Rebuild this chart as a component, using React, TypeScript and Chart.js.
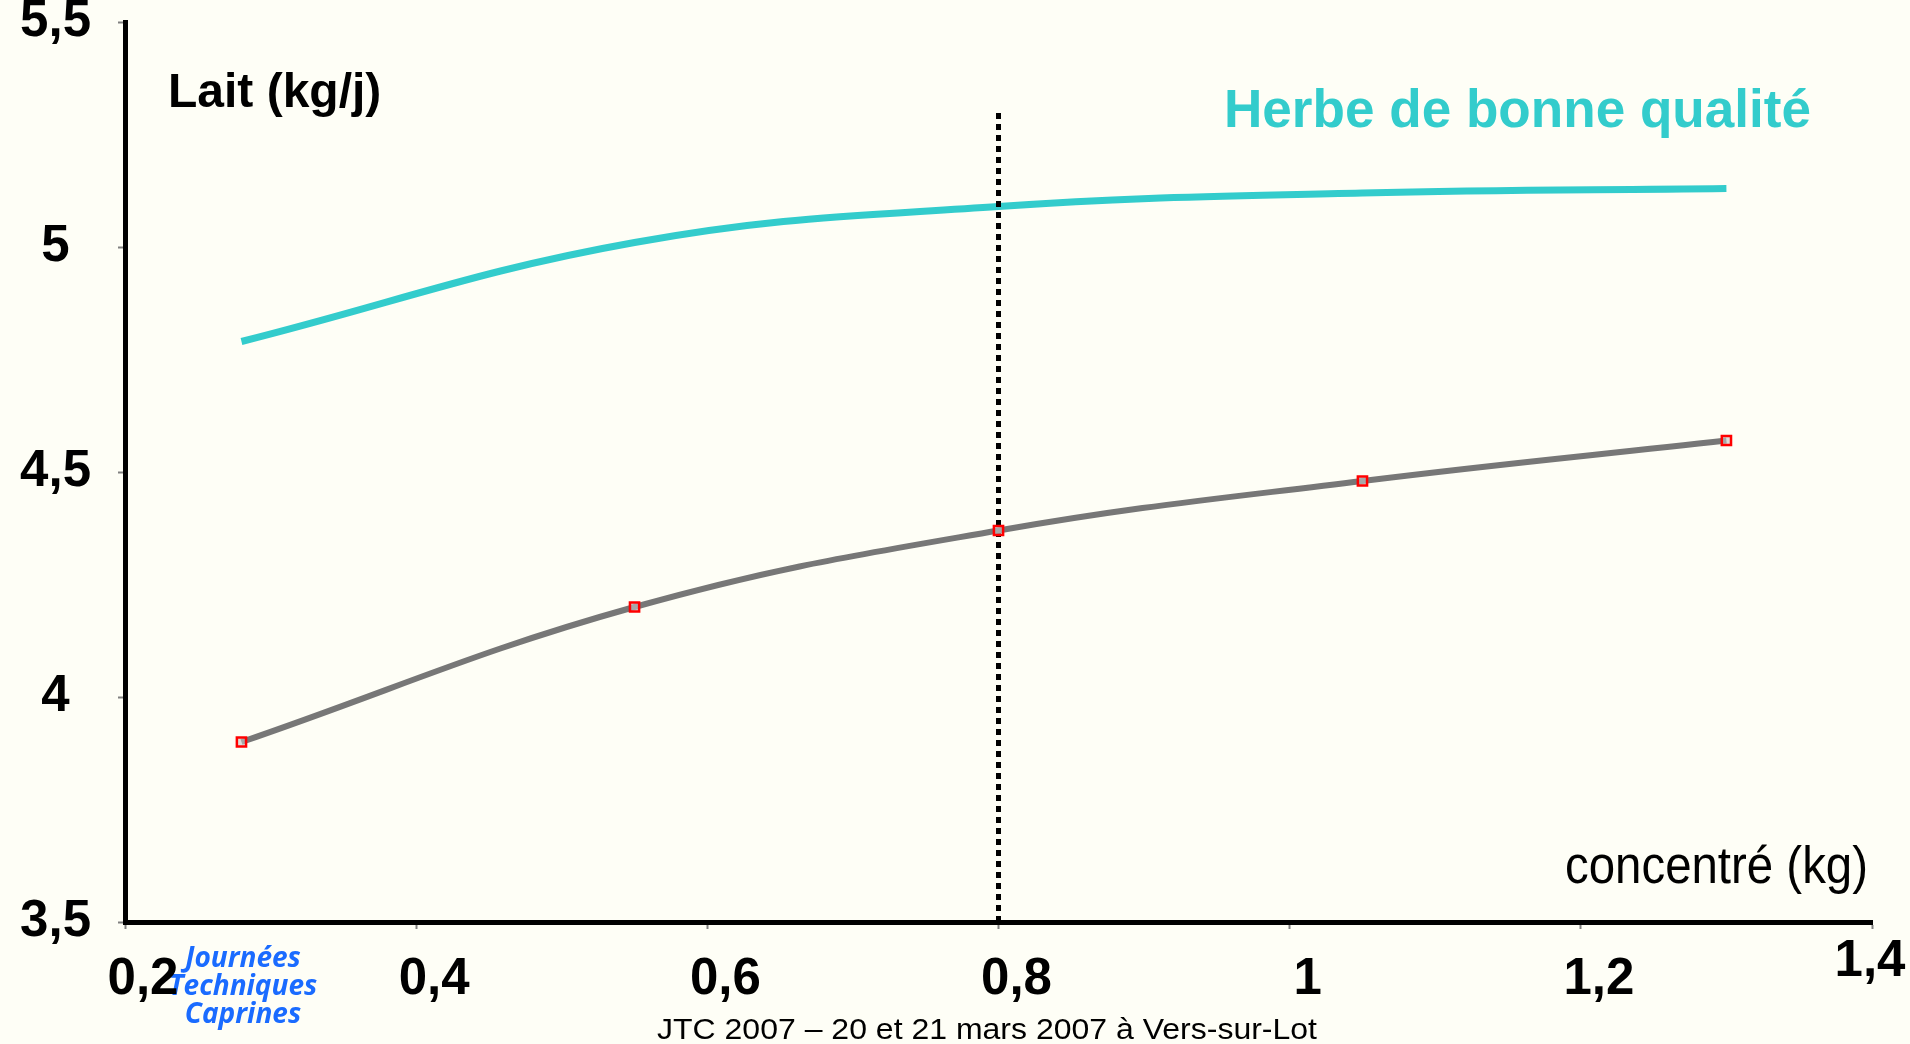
import React, { useEffect, useRef } from 'react';
import { Chart, registerables } from 'chart.js';

Chart.register(...registerables);

// ---------- data ----------
const concentreKg = [0.28, 0.55, 0.8, 1.05, 1.3];
const laitHerbeBonne = [4.79, 5.01, 5.09, 5.12, 5.13];
const laitAutre = [3.9, 4.2, 4.37, 4.48, 4.57];
const seuilX = [0.8, 0.8];
const seuilY = [3.5, 5.3];
const xTickValues = [0.2, 0.4, 0.6, 0.8, 1, 1.2, 1.4];
const yTickValues = [3.5, 4, 4.5, 5, 5.5];

const yAxisTitle = 'Lait (kg/j)';
const xAxisTitle = 'concentré (kg)';
const seriesTitle = 'Herbe de bonne qualité';
const logoLines = ['Journées', 'Techniques', 'Caprines'];
const footerText = 'JTC 2007 – 20 et 21 mars 2007 à Vers-sur-Lot';

// ---------- styles ----------
const BG = '#FEFEF6';
const TEAL = '#33CCCC';
const GREY = '#777777';
const RED = '#FF0000';
const BLUE = '#1A6BFF';
const FONT = '"Liberation Sans", Arial, sans-serif';
const TICK_FONT = `bold 51px ${FONT}`;

const fmt = (v: number) => String(Math.round(v * 10) / 10).replace('.', ',');
const lastX = xTickValues[xTickValues.length - 1];

function drawFitted(ctx: CanvasRenderingContext2D, text: string, x: number, y: number, width: number, align: 'left' | 'center') {
  const w = ctx.measureText(text).width;
  const s = width / w;
  ctx.save();
  ctx.translate(x, y);
  ctx.scale(s, 1);
  ctx.textAlign = align;
  ctx.fillText(text, 0, 0);
  ctx.restore();
}

const annotations = {
  id: 'annotations',
  beforeDraw(chart: any) {
    const ctx: CanvasRenderingContext2D = chart.ctx;
    ctx.save();
    ctx.fillStyle = BG;
    ctx.fillRect(0, 0, chart.width, chart.height);
    ctx.fillStyle = BLUE;
    ctx.font = 'italic 700 28px "Open Sans", "Noto Sans", sans-serif';
    ctx.textAlign = 'center';
    ctx.textBaseline = 'alphabetic';
    logoLines.forEach((t, i) => ctx.fillText(t, 243, 967 + i * 28));
    ctx.restore();
  },
  afterDraw(chart: any) {
    const ctx: CanvasRenderingContext2D = chart.ctx;
    const xs = chart.scales.x;
    ctx.save();
    // last x tick label sits slightly higher and without offset in the original
    ctx.fillStyle = '#000';
    ctx.font = TICK_FONT;
    ctx.textAlign = 'center';
    ctx.textBaseline = 'middle';
    ctx.fillText(fmt(lastX), xs.getPixelForValue(lastX) - 2, xs.top + 40);

    ctx.textBaseline = 'alphabetic';
    ctx.font = `bold 48px ${FONT}`;
    ctx.textAlign = 'left';
    ctx.fillText(yAxisTitle, 168, 107);

    ctx.fillStyle = TEAL;
    ctx.font = `bold 53px ${FONT}`;
    drawFitted(ctx, seriesTitle, 1224, 127, 587, 'left');

    ctx.fillStyle = '#000';
    ctx.font = `51px ${FONT}`;
    drawFitted(ctx, xAxisTitle, 1565, 883, 303, 'left');

    ctx.font = `30px ${FONT}`;
    drawFitted(ctx, footerText, 987, 1039, 660, 'center');
    ctx.restore();
  },
};

export default function App() {
  const ref = useRef<HTMLCanvasElement | null>(null);

  useEffect(() => {
    document.body.style.margin = '0';
    document.body.style.background = BG;
    const canvas = ref.current;
    if (!canvas) return;

    const chart = new Chart(canvas, {
      type: 'line',
      data: {
        datasets: [
          {
            label: seriesTitle,
            data: concentreKg.map((x, i) => ({ x, y: laitHerbeBonne[i] })),
            borderColor: TEAL,
            borderWidth: 7,
            pointRadius: 0,
            tension: 0.4,
            fill: false,
            order: 3,
          },
          {
            label: 'seuil',
            data: seuilX.map((x, i) => ({ x, y: seuilY[i] })),
            borderColor: '#000',
            borderWidth: 5,
            borderDash: [6, 5],
            pointRadius: 0,
            tension: 0,
            fill: false,
            order: 2,
          },
          {
            label: 'autre',
            data: concentreKg.map((x, i) => ({ x, y: laitAutre[i] })),
            borderColor: GREY,
            borderWidth: 6,
            tension: 0.4,
            fill: false,
            pointStyle: 'rect',
            pointRadius: 6.5,
            pointBorderColor: RED,
            pointBorderWidth: 2.5,
            pointBackgroundColor: 'rgba(200,200,200,0.6)',
            order: 1,
          },
        ],
      },
      options: {
        responsive: false,
        animation: false,
        devicePixelRatio: 1,
        layout: { padding: { left: 0, right: 38, top: 22, bottom: 0 } },
        plugins: { legend: { display: false }, tooltip: { enabled: false } },
        scales: {
          x: {
            type: 'linear',
            min: 0.2,
            max: 1.4,
            afterBuildTicks: (s: any) => {
              s.ticks = xTickValues.map((v) => ({ value: v }));
            },
            afterFit: (s: any) => {
              s.height = 122;
              s.paddingLeft = 0;
              s.paddingRight = 0;
            },
            border: { display: true, color: '#000', width: 5 },
            grid: { drawOnChartArea: false, drawTicks: true, tickLength: 7, tickColor: '#808080', tickWidth: 2 },
            ticks: {
              color: '#000',
              font: { family: FONT, size: 51, weight: 'bold' },
              padding: 20,
              labelOffset: 18,
              maxRotation: 0,
              autoSkip: false,
              callback: (v: any) => (Number(v) === lastX ? '' : fmt(Number(v))),
            },
          },
          y: {
            type: 'linear',
            min: 3.5,
            max: 5.5,
            afterBuildTicks: (s: any) => {
              s.ticks = yTickValues.map((v) => ({ value: v }));
            },
            afterFit: (s: any) => {
              s.width = 125;
              s.paddingTop = 0;
              s.paddingBottom = 0;
            },
            border: { display: true, color: '#000', width: 5 },
            grid: { drawOnChartArea: false, drawTicks: true, tickLength: 7, tickColor: '#808080', tickWidth: 2 },
            ticks: {
              color: '#000',
              font: { family: FONT, size: 51, weight: 'bold' },
              padding: 27,
              crossAlign: 'center',
              autoSkip: false,
              callback: (v: any) => fmt(Number(v)),
            },
          },
        },
      },
      plugins: [annotations],
    } as any);

    return () => chart.destroy();
  }, []);

  return (
    <div style={{ position: 'absolute', left: 0, top: 0, width: 1910, height: 1044, background: BG }}>
      <canvas ref={ref} width={1910} height={1044} style={{ display: 'block', width: 1910, height: 1044 }} />
    </div>
  );
}
